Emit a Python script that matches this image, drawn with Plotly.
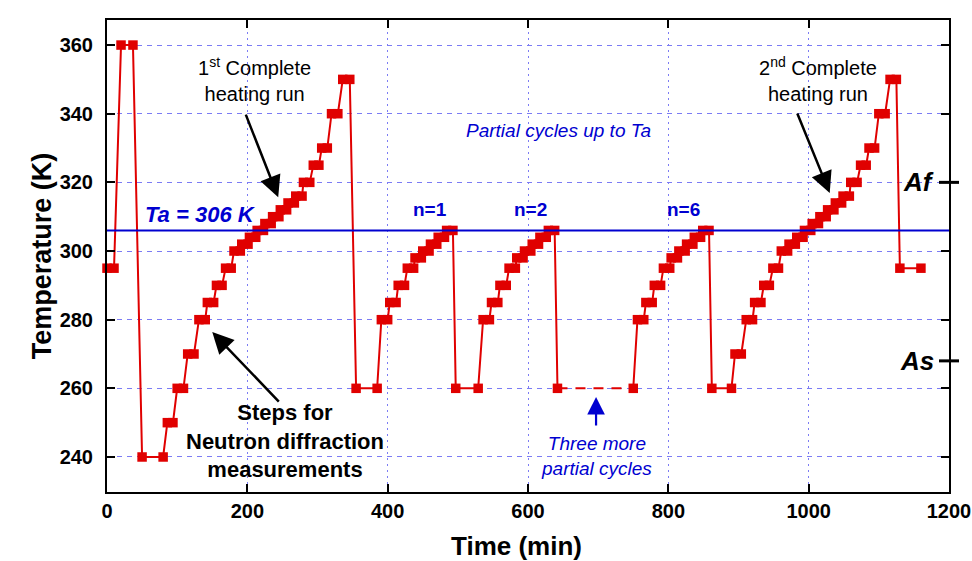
import plotly.graph_objects as go

# ---- data (time in min, temperature in K) ----
time_min = [0, 10, 20, 37, 50, 80, 86, 94, 100, 109, 115, 124, 131, 140, 143, 152,
            156, 164, 169, 177, 181, 190, 192, 201, 203, 212, 214, 223, 225, 234,
            236, 245, 247, 256, 258, 267, 269, 278, 280, 289, 294, 302, 306, 314,
            320, 329, 336, 346, 355, 385,
            391, 400, 403, 412, 415, 424, 428, 437, 439, 448, 450, 459, 461, 470,
            472, 481, 484, 493, 497, 529,
            536, 545, 548, 557, 560, 569, 573, 582, 584, 593, 595, 604, 606, 615,
            617, 626, 629, 638, 642, None,
            750, 756, 765, 768, 777, 780, 789, 793, 802, 804, 813, 815, 824, 826,
            835, 837, 846, 849, 858, 862, 890,
            895, 904, 911, 920, 923, 932, 936, 944, 949, 957, 961, 970, 972, 981,
            983, 992, 994, 1003, 1005, 1014, 1016, 1025, 1027, 1036, 1038, 1047,
            1049, 1058, 1060, 1069, 1074, 1082, 1086, 1094, 1100, 1109, 1116, 1125,
            1130, 1160]
temp_K = [295, 295, 360, 360, 240, 240, 250, 250, 260, 260, 270, 270, 280, 280, 285, 285,
          290, 290, 295, 295, 300, 300, 302, 302, 304, 304, 306, 306, 308, 308,
          310, 310, 312, 312, 314, 314, 316, 316, 320, 320, 325, 325, 330, 330,
          340, 340, 350, 350, 260, 260,
          280, 280, 285, 285, 290, 290, 295, 295, 298, 298, 300, 300, 302, 302,
          304, 304, 306, 306, 260, 260,
          280, 280, 285, 285, 290, 290, 295, 295, 298, 298, 300, 300, 302, 302,
          304, 304, 306, 306, 260, None,
          260, 280, 280, 285, 285, 290, 290, 295, 295, 298, 298, 300, 300, 302,
          302, 304, 304, 306, 306, 260, 260,
          270, 270, 280, 280, 285, 285, 290, 290, 295, 295, 300, 300, 302, 302,
          304, 304, 306, 306, 308, 308, 310, 310, 312, 312, 314, 314,
          316, 316, 320, 320, 325, 325, 330, 330, 340, 340, 350, 350,
          295, 295]

gap_time = [642, 750]          # "three more partial cycles" (dashed)
gap_temp = [260, 260]

Ta = 306
Af = 320
As = 268

x_ticks = [0, 200, 400, 600, 800, 1000, 1200]
y_ticks = [240, 260, 280, 300, 320, 340, 360]

RED = "#E00000"
BLUE = "#0000D0"
GRID = "#7C7CF4"
FONT = "Liberation Sans, Arial, sans-serif"
NARROW = "Liberation Sans Narrow, Arial Narrow, Liberation Sans, Arial, sans-serif"

fig = go.Figure()
fig.add_trace(go.Scatter(x=gap_time, y=gap_temp, mode="lines",
                         line=dict(color=RED, width=2, dash="10px,8px"),
                         hoverinfo="skip"))
fig.add_trace(go.Scatter(x=time_min, y=temp_K, mode="lines+markers",
                         line=dict(color=RED, width=2),
                         marker=dict(symbol="square", size=9.5, color=RED),
                         connectgaps=False, cliponaxis=False))

# Ta line
fig.add_shape(type="line", xref="x", yref="y", x0=0, x1=1200, y0=Ta, y1=Ta,
              line=dict(color=BLUE, width=2))

# Af / As marks on right axis
plot_w = 972 - 107 - 23
for v in (Af, As):
    fig.add_shape(type="line", xref="paper", yref="y",
                  x0=1 - 10 / plot_w, x1=1 + 10 / plot_w, y0=v, y1=v,
                  line=dict(color="black", width=3))

ann = []
def txt(x, y, text, size, color="black", bold=False, italic=False, xref="x", yref="y", **kw):
    if bold:
        text = "<b>" + text + "</b>"
    if italic:
        text = "<i>" + text + "</i>"
    d = dict(x=x, y=y, xref=xref, yref=yref, text=text, showarrow=False,
             font=dict(family=FONT, size=size, color=color))
    d.update(kw)
    ann.append(d)

txt(210, 350.1, "1<sup>st</sup> Complete<br>heating run", 20)
txt(1013, 350.1, "2<sup>nd</sup> Complete<br>heating run", 20)
txt(133, 310.6, "Ta = 306 K", 22, BLUE, bold=True, italic=True)
txt(643, 335.2, "Partial cycles up to Ta", 19, BLUE, italic=True)
txt(460, 312.2, "n=1", 19, BLUE, bold=True)
txt(604, 312.2, "n=2", 19, BLUE, bold=True)
txt(821, 312.2, "n=6", 19, BLUE, bold=True)
txt(254, 244.6, "Steps for<br>Neutron diffraction<br>measurements", 22, bold=True)
txt(697, 240.2, "Three more<br>partial cycles", 19, BLUE, italic=True)
txt(1, Af, "Af", 26, bold=True, italic=True, xref="paper", xanchor="right", xshift=-13)
txt(1, As, "As", 26, bold=True, italic=True, xref="paper", xanchor="right", xshift=-13)

# axis titles
txt(-0.097, 0.5, "Temperature (K)", 27, bold=True, xref="paper", yref="paper", textangle=-90)
txt(0.486, -0.114, "Time (min)", 26, bold=True, xref="paper", yref="paper", yanchor="middle")

# arrows
def arrow(x, y, ax, ay, color="black", width=2.5, size=1.7):
    ann.append(dict(x=x, y=y, xref="x", yref="y", ax=ax, ay=ay, axref="pixel", ayref="pixel",
                    text="", showarrow=True, arrowhead=2, arrowsize=size,
                    arrowwidth=width, arrowcolor=color))

arrow(244, 315.7, -33, -84)
arrow(150, 276.4, 68, 71)
arrow(1030, 316.9, -33, -81)
arrow(697, 257.5, 0, 30, color=BLUE, width=2.2, size=1.6)

fig.update_layout(annotations=ann)

axis_common = dict(showline=True, linecolor="black", linewidth=2, mirror="ticks",
                   ticks="inside", ticklen=8, tickwidth=2, tickcolor="black",
                   showgrid=True, gridcolor=GRID, gridwidth=1, zeroline=False,
                   automargin=False,
                   tickfont=dict(family=NARROW, size=20, color="black", weight="bold"))

fig.update_xaxes(range=[0, 1200], tickvals=x_ticks, griddash="2px,4px", **axis_common)
fig.update_yaxes(range=[229.8, 367.3], tickvals=y_ticks, griddash="5px,5px",
                 ticklabelstandoff=8, **axis_common)

fig.update_layout(width=972, height=561, margin=dict(l=107, r=23, t=20, b=69),
                  plot_bgcolor="white", paper_bgcolor="white", showlegend=False)

fig.write_html("out.html", config={"displayModeBar": False},
               post_script="document.body.style.margin='0';document.body.style.overflow='hidden';")
